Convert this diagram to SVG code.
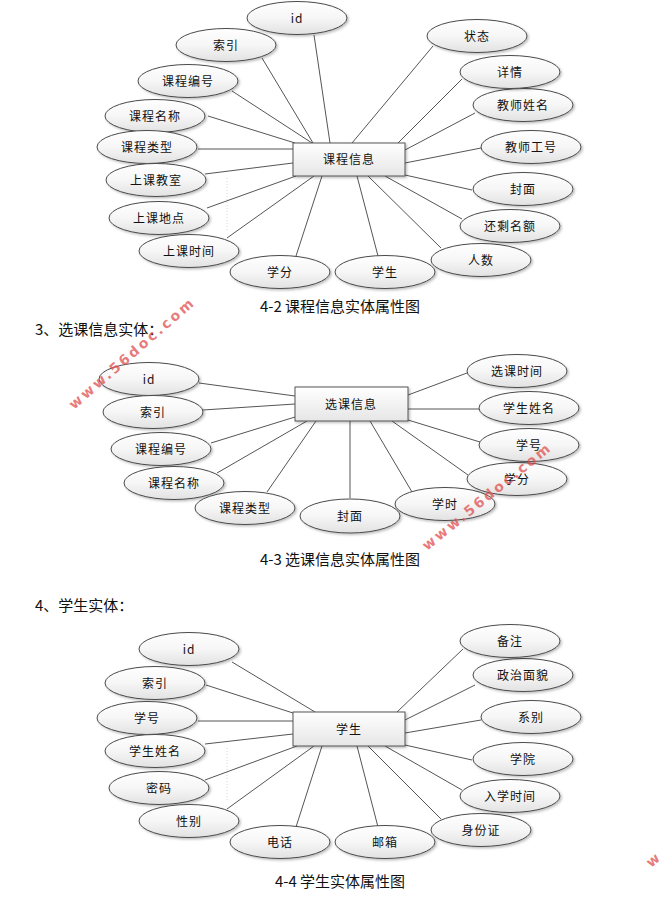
<svg xmlns="http://www.w3.org/2000/svg" width="666" height="905" viewBox="0 0 666 905">
<defs>
<linearGradient id="eg" x1="0" y1="0" x2="0" y2="1"><stop offset="0" stop-color="#ffffff"/><stop offset="0.5" stop-color="#f6f6f6"/><stop offset="1" stop-color="#e2e2e2"/></linearGradient>
<linearGradient id="rg" x1="0" y1="0" x2="0" y2="1"><stop offset="0" stop-color="#ffffff"/><stop offset="1" stop-color="#e6e6e6"/></linearGradient>
<filter id="sh" x="-20%" y="-30%" width="140%" height="170%"><feDropShadow dx="1.5" dy="1.5" stdDeviation="0.8" flood-color="#000" flood-opacity="0.25"/></filter>
</defs>
<style>
.bg{fill:#fff}
ellipse{fill:url(#eg);stroke:#4a4a4a;stroke-width:1;filter:url(#sh)}
rect.ent{fill:url(#rg);stroke:#555;stroke-width:1;filter:url(#sh)}
.c line{stroke:#555;stroke-width:1}
.dot{stroke:#d8d8d8;stroke-width:1;stroke-dasharray:1 2}
text{font-family:"Noto Sans CJK SC","Liberation Sans",sans-serif;fill:#111}
.l{font-size:12px;text-anchor:middle;letter-spacing:1px}
.cap{font-size:15px;text-anchor:middle}
.h{font-size:15px}
.wm{font-family:"DejaVu Sans","Liberation Sans",sans-serif;font-size:14px;font-weight:bold;fill:#e05050;fill-opacity:0.75;letter-spacing:2.6px}
</style>
<rect class="bg" x="0" y="0" width="666" height="905"/>
<line class="dot" x1="227" y1="178" x2="227" y2="232"/>
<line class="dot" x1="227" y1="748" x2="227" y2="800"/>
<g class="c" id="connectors">
<line x1="314" y1="35" x2="330" y2="143"/>
<line x1="262" y1="58" x2="313" y2="143"/>
<line x1="232" y1="91" x2="312" y2="143"/>
<line x1="208" y1="116" x2="295" y2="143"/>
<line x1="198" y1="149" x2="293" y2="149"/>
<line x1="205" y1="174" x2="293" y2="163"/>
<line x1="207" y1="208" x2="296" y2="176"/>
<line x1="227" y1="238" x2="314" y2="176"/>
<line x1="296" y1="256" x2="322" y2="176"/>
<line x1="378" y1="256" x2="357" y2="176"/>
<line x1="441" y1="248" x2="368" y2="176"/>
<line x1="462" y1="219" x2="385" y2="176"/>
<line x1="472" y1="190" x2="405" y2="175"/>
<line x1="481" y1="148" x2="405" y2="163"/>
<line x1="475" y1="113" x2="405" y2="150"/>
<line x1="462" y1="79" x2="398" y2="143"/>
<line x1="433" y1="46" x2="352" y2="143"/>
<line x1="199" y1="383" x2="295" y2="396"/>
<line x1="203" y1="410" x2="295" y2="404"/>
<line x1="211" y1="443" x2="295" y2="417"/>
<line x1="217" y1="473" x2="307" y2="421"/>
<line x1="267" y1="492" x2="316" y2="421"/>
<line x1="350" y1="421" x2="350" y2="498"/>
<line x1="412" y1="492" x2="370" y2="421"/>
<line x1="468" y1="475" x2="392" y2="421"/>
<line x1="480" y1="442" x2="408" y2="420"/>
<line x1="408" y1="409" x2="479" y2="409"/>
<line x1="467" y1="373" x2="408" y2="395"/>
<line x1="232" y1="662" x2="315" y2="712"/>
<line x1="206" y1="685" x2="293" y2="713"/>
<line x1="198" y1="721" x2="293" y2="721"/>
<line x1="205" y1="744" x2="293" y2="734"/>
<line x1="205" y1="780" x2="297" y2="746"/>
<line x1="227" y1="809" x2="314" y2="746"/>
<line x1="296" y1="827" x2="322" y2="746"/>
<line x1="378" y1="827" x2="357" y2="746"/>
<line x1="441" y1="819" x2="368" y2="746"/>
<line x1="462" y1="790" x2="385" y2="746"/>
<line x1="472" y1="760" x2="405" y2="745"/>
<line x1="481" y1="720" x2="405" y2="733"/>
<line x1="475" y1="685" x2="405" y2="720"/>
<line x1="463" y1="649" x2="397" y2="712"/>
</g>
<!-- diagram 1 -->
<g id="e1"><rect class="ent" x="293" y="143" width="112" height="33"/><text class="l" x="349" y="164">课程信息</text></g>
<g id="a1_id"><ellipse cx="297" cy="18" rx="50" ry="16.5"/><text class="l" x="297" y="22.5">id</text></g>
<g id="a1_idx"><ellipse cx="226" cy="45" rx="50" ry="16.5"/><text class="l" x="226" y="49.5">索引</text></g>
<g id="a1_no"><ellipse cx="188" cy="81" rx="50" ry="16.5"/><text class="l" x="188" y="85.5">课程编号</text></g>
<g id="a1_name"><ellipse cx="155" cy="116" rx="50" ry="16.5"/><text class="l" x="155" y="120.5">课程名称</text></g>
<g id="a1_type"><ellipse cx="147" cy="147" rx="50" ry="16.5"/><text class="l" x="147" y="151.5">课程类型</text></g>
<g id="a1_room"><ellipse cx="156" cy="180" rx="50" ry="16.5"/><text class="l" x="156" y="184.5">上课教室</text></g>
<g id="a1_place"><ellipse cx="159" cy="218" rx="50" ry="16.5"/><text class="l" x="159" y="222.5">上课地点</text></g>
<g id="a1_time"><ellipse cx="189" cy="251" rx="50" ry="16.5"/><text class="l" x="189" y="255.5">上课时间</text></g>
<g id="a1_credit"><ellipse cx="280" cy="272" rx="50" ry="16.5"/><text class="l" x="280" y="276.5">学分</text></g>
<g id="a1_stu"><ellipse cx="385" cy="272" rx="50" ry="16.5"/><text class="l" x="385" y="276.5">学生</text></g>
<g id="a1_num"><ellipse cx="481" cy="260" rx="50" ry="16.5"/><text class="l" x="481" y="264.5">人数</text></g>
<g id="a1_left"><ellipse cx="510" cy="226" rx="50" ry="16.5"/><text class="l" x="510" y="230.5">还剩名额</text></g>
<g id="a1_cover"><ellipse cx="523" cy="189" rx="50" ry="16.5"/><text class="l" x="523" y="193.5">封面</text></g>
<g id="a1_tno"><ellipse cx="531" cy="147" rx="50" ry="16.5"/><text class="l" x="531" y="151.5">教师工号</text></g>
<g id="a1_tname"><ellipse cx="523" cy="105" rx="50" ry="16.5"/><text class="l" x="523" y="109.5">教师姓名</text></g>
<g id="a1_detail"><ellipse cx="510" cy="72" rx="50" ry="16.5"/><text class="l" x="510" y="76.5">详情</text></g>
<g id="a1_state"><ellipse cx="477" cy="36" rx="50" ry="16.5"/><text class="l" x="477" y="40.5">状态</text></g>
<text class="cap" x="340" y="312">4-2 课程信息实体属性图</text>
<text class="h" x="35" y="335">3、选课信息实体：</text>
<!-- diagram 2 -->
<g id="e2"><rect class="ent" x="295" y="387" width="113" height="34"/><text class="l" x="351" y="408.5">选课信息</text></g>
<g id="a2_id"><ellipse cx="149" cy="379" rx="50" ry="16.5"/><text class="l" x="149" y="383.5">id</text></g>
<g id="a2_idx"><ellipse cx="153" cy="412" rx="50" ry="16.5"/><text class="l" x="153" y="416.5">索引</text></g>
<g id="a2_no"><ellipse cx="161" cy="449" rx="50" ry="16.5"/><text class="l" x="161" y="453.5">课程编号</text></g>
<g id="a2_name"><ellipse cx="174" cy="483" rx="50" ry="16.5"/><text class="l" x="174" y="487.5">课程名称</text></g>
<g id="a2_type"><ellipse cx="245" cy="508" rx="50" ry="16.5"/><text class="l" x="245" y="512.5">课程类型</text></g>
<g id="a2_cover"><ellipse cx="350" cy="516" rx="50" ry="17"/><text class="l" x="350" y="520.5">封面</text></g>
<g id="a2_hours"><ellipse cx="445" cy="504" rx="50" ry="16.5"/><text class="l" x="445" y="508.5">学时</text></g>
<g id="a2_credit"><ellipse cx="517" cy="479" rx="50" ry="16.5"/><text class="l" x="517" y="483.5">学分</text></g>
<g id="a2_sno"><ellipse cx="529" cy="445" rx="50" ry="16.5"/><text class="l" x="529" y="449.5">学号</text></g>
<g id="a2_sname"><ellipse cx="529" cy="408" rx="50" ry="16.5"/><text class="l" x="529" y="412.5">学生姓名</text></g>
<g id="a2_time"><ellipse cx="517" cy="371" rx="50" ry="16.5"/><text class="l" x="517" y="375.5">选课时间</text></g>
<text class="cap" x="340" y="565">4-3 选课信息实体属性图</text>
<text class="h" x="35" y="611">4、学生实体：</text>
<!-- diagram 3 -->
<g id="e3"><rect class="ent" x="293" y="712" width="112" height="34"/><text class="l" x="349" y="733.5">学生</text></g>
<g id="a3_id"><ellipse cx="189" cy="649" rx="50" ry="16.5"/><text class="l" x="189" y="653.5">id</text></g>
<g id="a3_idx"><ellipse cx="155" cy="683" rx="50" ry="16.5"/><text class="l" x="155" y="687.5">索引</text></g>
<g id="a3_sno"><ellipse cx="147" cy="718" rx="50" ry="16.5"/><text class="l" x="147" y="722.5">学号</text></g>
<g id="a3_sname"><ellipse cx="155" cy="751" rx="50" ry="16.5"/><text class="l" x="155" y="755.5">学生姓名</text></g>
<g id="a3_pwd"><ellipse cx="159" cy="788" rx="50" ry="16.5"/><text class="l" x="159" y="792.5">密码</text></g>
<g id="a3_sex"><ellipse cx="189" cy="821" rx="50" ry="16.5"/><text class="l" x="189" y="825.5">性别</text></g>
<g id="a3_tel"><ellipse cx="280" cy="842" rx="50" ry="16.5"/><text class="l" x="280" y="846.5">电话</text></g>
<g id="a3_mail"><ellipse cx="385" cy="842" rx="50" ry="16.5"/><text class="l" x="385" y="846.5">邮箱</text></g>
<g id="a3_idcard"><ellipse cx="481" cy="830" rx="50" ry="16.5"/><text class="l" x="481" y="834.5">身份证</text></g>
<g id="a3_enroll"><ellipse cx="510" cy="796" rx="50" ry="16.5"/><text class="l" x="510" y="800.5">入学时间</text></g>
<g id="a3_college"><ellipse cx="523" cy="759" rx="50" ry="16.5"/><text class="l" x="523" y="763.5">学院</text></g>
<g id="a3_dept"><ellipse cx="531" cy="717" rx="50" ry="16.5"/><text class="l" x="531" y="721.5">系别</text></g>
<g id="a3_pol"><ellipse cx="523" cy="675" rx="50" ry="16.5"/><text class="l" x="523" y="679.5">政治面貌</text></g>
<g id="a3_note"><ellipse cx="510" cy="641" rx="50" ry="16.5"/><text class="l" x="510" y="645.5">备注</text></g>
<text class="cap" x="340" y="887">4-4 学生实体属性图</text>
<!-- watermarks -->
<text class="wm" transform="translate(74,410) rotate(-41)">www.56doc.com</text>
<text class="wm" transform="translate(427,551) rotate(-39)">www.56doc.com</text>
<text class="wm" transform="translate(651,868) rotate(-40)">w</text>
</svg>
